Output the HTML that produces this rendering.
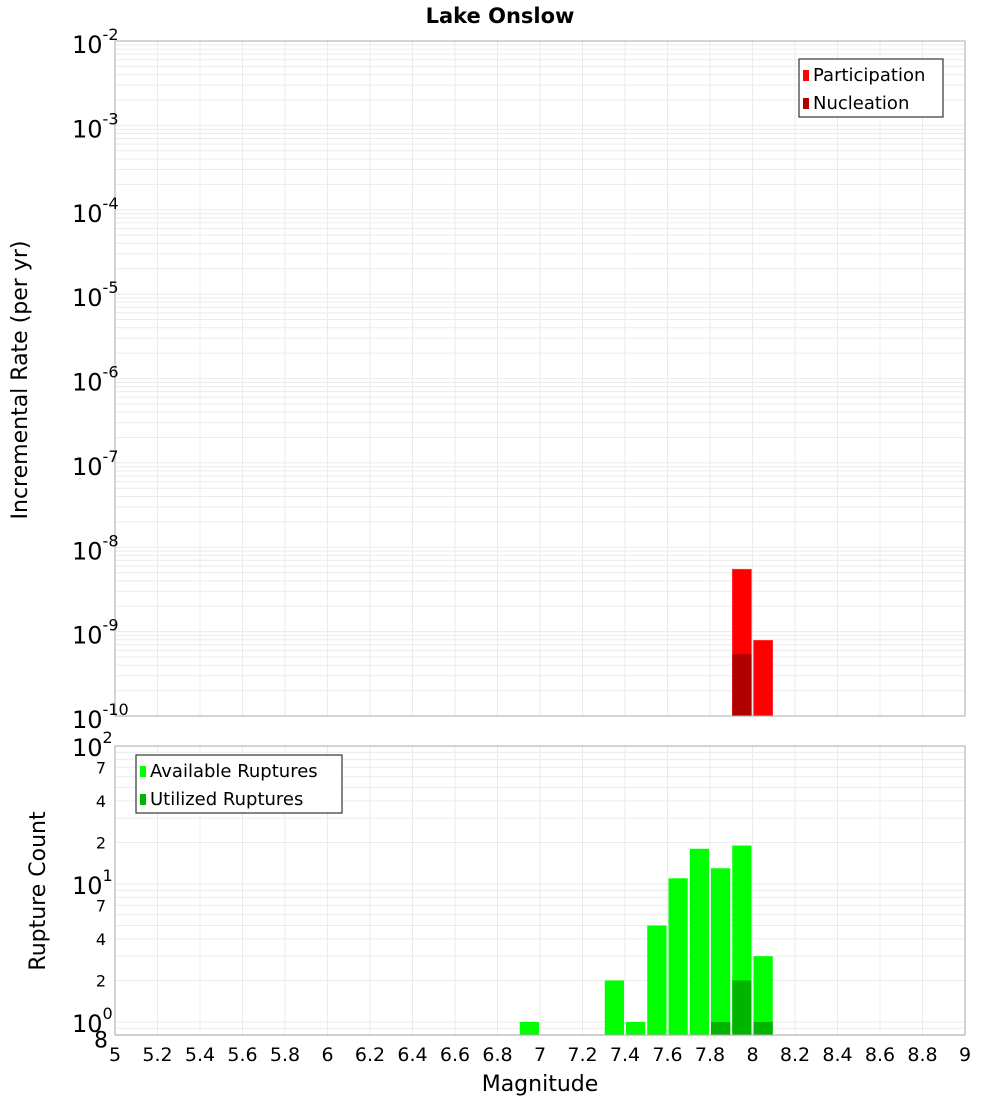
<!DOCTYPE html>
<html><head><meta charset="utf-8"><style>
body{margin:0;background:#fff;font-family:"Liberation Sans","DejaVu Sans",sans-serif;}
svg text{font-family:"DejaVu Sans","Liberation Sans",sans-serif;}
</style></head><body>
<svg id="c" width="1000" height="1100" xmlns="http://www.w3.org/2000/svg"></svg>
<script>
const bins=[6.95,7.05,7.15,7.25,7.35,7.45,7.55,7.65,7.75,7.85,7.95,8.05];
const participation=[0,0,0,0,0,0,0,0,0,0,5.5e-9,7.9e-10];
const nucleation=[0,0,0,0,0,0,0,0,0,0,5.4e-10,0];
const available=[1,0,0,0,2,1,5,11,18,13,19,3];
const utilized=[0,0,0,0,0,0,0,0,0,1,2,1];
const xTicks=[5,5.2,5.4,5.6,5.8,6,6.2,6.4,6.6,6.8,7,7.2,7.4,7.6,7.8,8,8.2,8.4,8.6,8.8,9];
const topExp=[-2,-3,-4,-5,-6,-7,-8,-9,-10];
const botMinor=[8,2,4,7,20,40,70];

const svg=document.getElementById('c');const NS='http://www.w3.org/2000/svg';
function el(t,a,p){const e=document.createElementNS(NS,t);for(const k in a)e.setAttribute(k,a[k]);(p||svg).appendChild(e);return e;}
const L=115,R=965;
const X=v=>L+(v-5)/4*(R-L);
const T0=41,T1=716;
const YT=v=>T0+(-2-Math.log10(v))/8*(T1-T0);
const B0=746,B1=1035,BD=138;
const YB=v=>1022-Math.log10(v)*BD;

// title
let t=el('text',{x:500,y:23,'text-anchor':'middle','font-size':21,'font-weight':'bold'});t.textContent='Lake Onslow';


// grids
const gt=el('g',{});
for(let e=-10;e<-2;e++)for(let m=1;m<10;m++){const y=YT(m*Math.pow(10,e));el('line',{x1:L,x2:R,y1:y,y2:y,stroke:'#ebebeb','stroke-width':1},gt);}
const gb=el('g',{});
for(let e=-1;e<2;e++)for(let m=1;m<10;m++){const v=m*Math.pow(10,e);if(v<0.8)continue;const y=YB(v);el('line',{x1:L,x2:R,y1:y,y2:y,stroke:'#ebebeb','stroke-width':1},gb);}
for(let i=1;i<xTicks.length-1;i++){const x=X(xTicks[i]);el('line',{x1:x,x2:x,y1:T0,y2:T1,stroke:'#ebebeb'},gt);el('line',{x1:x,x2:x,y1:B0,y2:B1,stroke:'#ebebeb'},gb);}

// top bars
const w=X(5.1)-X(5);
bins.forEach((b,i)=>{
 if(participation[i]>0){const r=el('rect',{x:X(b)-w/2+1,y:YT(participation[i]),width:w-2,height:T1-YT(participation[i]),fill:'#ff0000',stroke:'#ff5050','stroke-width':0.5});
 }
 if(nucleation[i]>0){const r=el('rect',{x:X(b)-w/2+1,y:YT(nucleation[i]),width:w-2,height:T1-YT(nucleation[i]),fill:'#b00000'});
 }
 if(available[i]>0){const r=el('rect',{x:X(b)-w/2+1,y:YB(available[i]),width:w-2,height:B1-YB(available[i]),fill:'#00ff00'});
 }
 if(utilized[i]>0){const r=el('rect',{x:X(b)-w/2+1,y:YB(utilized[i]),width:w-2,height:B1-YB(utilized[i]),fill:'#00b400'});
 }
});

// frames
el('rect',{x:L,y:T0,width:R-L,height:T1-T0,fill:'none',stroke:'#aaa'});
el('rect',{x:L,y:B0,width:R-L,height:B1-B0,fill:'none',stroke:'#aaa'});

// top y ticks
topExp.forEach(e=>{const y=YT(Math.pow(10,e));const tx=el('text',{x:72,y:y+12,'font-size':24});tx.textContent='10';
 const s=el('tspan',{dy:-13,'font-size':16},tx);s.textContent=String(e);
 });
// bottom y ticks
[0,1,2].forEach(e=>{const y=YB(Math.pow(10,e));const tx=el('text',{x:72,y:y+10,'font-size':24});tx.textContent='10';
 const s=el('tspan',{dy:-13,'font-size':16},tx);s.textContent=String(e);
 });
botMinor.forEach(v=>{const y=YB(v<10&&v===8?0.8:v<10?v:v);const yy=YB(v===8?0.8:v);const tx=el('text',{x:v===8?108:106,y:yy+(v===8?12:6),'font-size':v===8?22:16,'text-anchor':'end'});tx.textContent=String(v>=10?v/10:v);
 });

// x ticks
xTicks.forEach(v=>{const tx=el('text',{x:X(v),y:1061,'font-size':19,'text-anchor':'middle'});tx.textContent=String(v);
 });

// axis titles
t=el('text',{x:540,y:1091,'font-size':22,'text-anchor':'middle'});t.textContent='Magnitude';
t=el('text',{x:0,y:0,'font-size':22,'text-anchor':'middle',transform:'translate(27,380) rotate(-90)'});t.textContent='Incremental Rate (per yr)';
t=el('text',{x:0,y:0,'font-size':22,'text-anchor':'middle',transform:'translate(45,891) rotate(-90)'});t.textContent='Rupture Count';

// legends
function legend(x,y,wd,items,name){const g=el('g',{});
 el('rect',{x:x,y:y,width:wd,height:58,fill:'#fff',stroke:'#333','stroke-width':1.2},g);
 items.forEach((it,i)=>{el('rect',{x:x+4,y:y+11+i*28,width:6,height:11,fill:it[1]},g);
 const tx=el('text',{x:x+14,y:y+22+i*28,'font-size':18},g);tx.textContent=it[0];});}
legend(799,59,144,[['Participation','#ff0000'],['Nucleation','#b00000']],'top-legend');
legend(136,755,206,[['Available Ruptures','#00ff00'],['Utilized Ruptures','#00b400']],'bottom-legend');
</script>
</body></html>
